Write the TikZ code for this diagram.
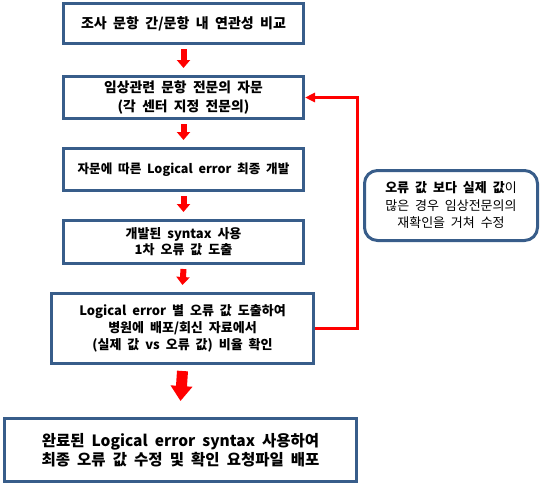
\documentclass[tikz,border=0pt]{standalone}
\usepackage{fontspec}
\setmainfont{Noto Sans CJK KR}[WordSpace=2]
\usetikzlibrary{arrows.meta,calc}
\definecolor{boxblue}{RGB}{56,93,138}
\definecolor{arrred}{RGB}{255,0,0}
\tikzset{
  box/.style={draw=boxblue, line width=3pt, fill=white, inner sep=0pt, align=center, font=\fontsize{13}{18}\selectfont\bfseries},
  sidebox/.style={box, rounded corners=13pt, font=\fontsize{13}{17.5}\selectfont},
  smallarr/.style={arrred, line width=6pt, -{Triangle[width=13pt,length=8pt]}},
  bigarr/.style={arrred, line width=11pt, -{Triangle[width=21pt,length=15pt]}},
  feedback/.style={arrred, line width=3pt, -{Triangle[width=9pt,length=10pt]}}
}
\begin{document}
\begin{tikzpicture}[x=1pt,y=-1pt]
\useasboundingbox (0,0) rectangle (540,485);
\node[box, minimum width=240pt, minimum height=40pt, font=\fontsize{14}{18}\selectfont\bfseries] (b1) at (183.5,23.5) {조사 문항 간/문항 내 연관성 비교};
\node[box, minimum width=240pt, minimum height=42pt, font=\fontsize{13.8}{19}\selectfont\bfseries] (b2) at (183.5,97.5) {임상관련 문항 전문의 자문\\(각 센터 지정 전문의)};
\node[box, minimum width=240pt, minimum height=42pt, font=\fontsize{12.6}{18}\selectfont\bfseries] (b3) at (183.5,169.5) {자문에 따른 Logical error 최종 개발};
\node[box, minimum width=240pt, minimum height=43pt, font=\fontsize{13}{16}\selectfont\bfseries] (b4) at (183.5,242) {개발된 syntax 사용\\1차 오류 값 도출};
\node[box, minimum width=262pt, minimum height=70pt, font=\fontsize{13}{17}\selectfont\bfseries] (b5) at (182.5,328.5) {Logical error 별 오류 값 도출하여\\병원에 배포/회신 자료에서\\(실제 값 vs 오류 값) 비율 확인};
\node[box, minimum width=352pt, minimum height=63pt, font=\fontsize{15.5}{19}\selectfont\bfseries] (b6) at (180.5,450) {완료된 Logical error syntax 사용하여\\최종 오류 값 수정 및 확인 요청파일 배포};
\node[sidebox, minimum width=173pt, minimum height=70pt] (s) at (451,205.5) {\textbf{오류 값 보다 실제 값}이\\많은 경우 임상전문의의\\재확인을 거쳐 수정};
\draw[smallarr] ($(b1.south)+(0,4)$) -- ($(b2.north)+(0,-7)$);
\draw[smallarr] ($(b2.south)+(0,4)$) -- ($(b3.north)+(0,-7)$);
\draw[smallarr] ($(b3.south)+(0,4)$) -- ($(b4.north)+(0,-7)$);
\draw[smallarr] ($(b4.south)+(0,4)$) -- ($(b5.north)+(0,-7)$);
\draw[bigarr] ($(b5.south)+(0,6)$) -- ($(b6.north)+(0,-16)$);
\coordinate (c1) at (357,0);
\draw[feedback] (b5.east) -| (c1 |- b2.east) -- (b2.east);
\end{tikzpicture}
\end{document}
